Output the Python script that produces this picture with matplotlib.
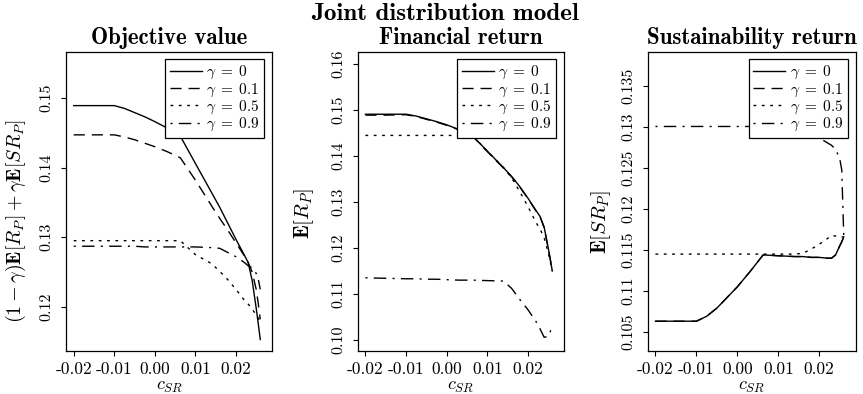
import numpy as np
import matplotlib
matplotlib.use("Agg")
import matplotlib.pyplot as plt

plt.rcParams['mathtext.fontset'] = 'cm'
plt.rcParams['axes.unicode_minus'] = False

# c_SR grid shared by all curves
c_sr = [-0.020, -0.015, -0.010, -0.0075, -0.005, -0.0025, 0.000, 0.003, 0.0063,
        0.010, 0.014, 0.016, 0.018, 0.020, 0.022, 0.023, 0.024, 0.025, 0.0255, 0.026]

gammas = ['0', '0.1', '0.5', '0.9']

# objective value
obj_g0 = [0.1489, 0.1489, 0.1489, 0.1485, 0.1479, 0.1473, 0.1466, 0.1457, 0.1445,
          0.1406, 0.1364, 0.1343, 0.1320, 0.1297, 0.1275, 0.1264, 0.1238, 0.1198, 0.1176, 0.1153]
obj_g01 = [0.1447, 0.1447, 0.1447, 0.1444, 0.1440, 0.1435, 0.1430, 0.1423, 0.1414,
           0.1382, 0.1345, 0.1327, 0.1310, 0.1292, 0.1274, 0.1264, 0.1250, 0.1225, 0.1205, 0.1182]
obj_g05 = [0.1295, 0.1295, 0.1295, 0.1295, 0.1295, 0.1295, 0.1295, 0.1295, 0.1295,
           0.1275, 0.1262, 0.1251, 0.1239, 0.1225, 0.1210, 0.1204, 0.1197, 0.1188, 0.1184, 0.1178]
obj_g09 = [0.1287, 0.1287, 0.1287, 0.1287, 0.1287, 0.1286, 0.1286, 0.1286, 0.1286,
           0.1286, 0.1285, 0.1284, 0.1278, 0.1272, 0.1264, 0.1259, 0.1256, 0.1248, 0.1240, 0.1225]

# financial return
fin_g0 = [0.1490, 0.1490, 0.1490, 0.1486, 0.1480, 0.1474, 0.1467, 0.1457, 0.1444,
          0.1410, 0.1374, 0.1355, 0.1333, 0.1308, 0.1281, 0.1268, 0.1245, 0.1200, 0.1176, 0.1150]
fin_g01 = [0.1488, 0.1488, 0.1489, 0.1485, 0.1479, 0.1473, 0.1466, 0.1456, 0.1443,
           0.1409, 0.1373, 0.1354, 0.1332, 0.1307, 0.1280, 0.1267, 0.1244, 0.1199, 0.1175, 0.1150]
fin_g05 = [0.1444, 0.1444, 0.1444, 0.1444, 0.1444, 0.1444, 0.1444, 0.1444, 0.1444,
           0.1410, 0.1374, 0.1352, 0.1322, 0.1290, 0.1255, 0.1241, 0.1222, 0.1190, 0.1170, 0.1150]
fin_g09 = [0.1135, 0.1134, 0.1133, 0.1133, 0.1132, 0.1132, 0.1131, 0.1130, 0.1130,
           0.1129, 0.1128, 0.1112, 0.1088, 0.1066, 0.1040, 0.1024, 0.1006, 0.1008, 0.1018, 0.1032]

# sustainability return
sus_g0 = [0.1063, 0.1063, 0.1063, 0.1069, 0.1079, 0.1092, 0.1105, 0.1123, 0.1144,
          0.1143, 0.1142, 0.1142, 0.1141, 0.1141, 0.1140, 0.1140, 0.1144, 0.1155, 0.1160, 0.1166]
sus_g01 = [0.1063, 0.1063, 0.1063, 0.1069, 0.1079, 0.1092, 0.1105, 0.1123, 0.1144,
           0.1143, 0.1142, 0.1142, 0.1141, 0.1141, 0.1140, 0.1140, 0.1144, 0.1155, 0.1160, 0.1166]
sus_g05 = [0.1145, 0.1145, 0.1145, 0.1145, 0.1145, 0.1145, 0.1145, 0.1145, 0.1145,
           0.1145, 0.1145, 0.1146, 0.1151, 0.1157, 0.1164, 0.1168, 0.1167, 0.1166, 0.1166, 0.1166]
sus_g09 = [0.1301, 0.1301, 0.1301, 0.1301, 0.1301, 0.1301, 0.1301, 0.1301, 0.1301,
           0.1301, 0.1300, 0.1297, 0.1292, 0.1287, 0.1281, 0.1278, 0.1273, 0.1262, 0.1248, 0.1166]

x_ticks = [-0.02, -0.01, 0.0, 0.01, 0.02]
x_tick_labels = ['-0.02', '-0.01', '0.00', '0.01', '0.02']
obj_ticks = [0.12, 0.13, 0.14, 0.15]
obj_tick_labels = ['0.12', '0.13', '0.14', '0.15']
fin_ticks = [0.10, 0.11, 0.12, 0.13, 0.14, 0.15, 0.16]
fin_tick_labels = ['0.10', '0.11', '0.12', '0.13', '0.14', '0.15', '0.16']
sus_ticks = [0.105, 0.110, 0.115, 0.120, 0.125, 0.130, 0.135]
sus_tick_labels = ['0.105', '0.11', '0.115', '0.12', '0.125', '0.13', '0.135']

styles = ['-', (0, (8, 5)), (0, (2, 4)), (0, (1.5, 4.5, 9, 4.5))]

fig = plt.figure(figsize=(8.63, 3.94), dpi=100)
panels = [
    ([0.0765, 0.110, 0.2387, 0.758], 'Objective value',
     [obj_g0, obj_g01, obj_g05, obj_g09], (0.1137, 0.1566),
     obj_ticks, obj_tick_labels,
     r'$(1-\gamma)\mathbf{E}[R_P]+\gamma\mathbf{E}[SR_P]$', (-0.183, 0.433), 14.5),
    ([0.4145, 0.110, 0.2391, 0.758], 'Financial return',
     [fin_g0, fin_g01, fin_g05, fin_g09], (0.0977, 0.1625),
     fin_ticks, fin_tick_labels, r'$\mathbf{E}[R_P]$', (-0.200, 0.46), 15),
    ([0.7505, 0.110, 0.2410, 0.758], 'Sustainability return',
     [sus_g0, sus_g01, sus_g05, sus_g09], (0.1027, 0.1392),
     sus_ticks, sus_tick_labels, r'$\mathbf{E}[SR_P]$', (-0.168, 0.432), 15),
]

for rect, title, series, ylim, yt, ytl, ylab, ylxy, ylfs in panels:
    ax = fig.add_axes(rect)
    for ys, ls, g in zip(series, styles, gammas):
        ax.plot(c_sr, ys, color='black', lw=1.0, linestyle=ls,
                label=r'$\gamma\;=\;%s$' % g)
    ax.set_xlim(-0.0219, 0.0289)
    ax.set_ylim(*ylim)
    ax.set_xticks(x_ticks, labels=x_tick_labels)
    ax.set_yticks(yt, labels=ytl)
    ax.tick_params(direction='out', length=3.8, width=0.8)
    ax.tick_params(axis='x', pad=4, labelsize=12.5)
    ax.tick_params(axis='y', pad=5, labelrotation=90, labelsize=11.5)
    for lab in ax.get_xticklabels() + ax.get_yticklabels():
        lab.set_family('cmr10')
    for lab in ax.get_yticklabels():
        lab.set_verticalalignment('center')
    for sp in ax.spines.values():
        sp.set_linewidth(0.9)
    ax.set_title(title, family='cmb10', fontsize=16.5, pad=6)
    ax.set_xlabel(r'$c_{SR}$', fontsize=13, labelpad=0)
    ax.set_ylabel(ylab, fontsize=ylfs)
    ax.yaxis.set_label_coords(*ylxy)
    leg = ax.legend(loc='upper right', bbox_to_anchor=(0.9626, 0.9755),
                    borderaxespad=0, fontsize=11, handlelength=2.1,
                    handletextpad=0.3, labelspacing=0.0, borderpad=0.3,
                    fancybox=False, framealpha=1, edgecolor='black')
    leg.get_frame().set_linewidth(0.9)

fig.text(445 / 863, 1 - 14 / 394, 'Joint distribution model', family='cmb10',
         fontsize=18, ha='center', va='center')

fig.savefig('out.png', dpi=100)
